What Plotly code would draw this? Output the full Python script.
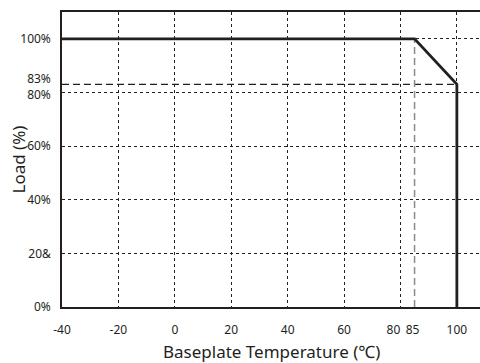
import plotly.graph_objects as go

# Derating curve: load vs baseplate temperature
temp_c = [-40, 85, 100, 100]
load_pct = [100, 100, 83, 0]

# Reference markers
knee_temp = 85
knee_load = 100
limit_temp = 100
limit_load = 83

x_tick_vals = [-40, -20, 0, 20, 40, 60, 100]
x_tick_text = ["-40", "-20", "0", "20", "40", "60", "100"]
x_left_pair_val = [80]
x_left_pair_text = ["80"]
x_right_pair_val = [85]
x_right_pair_text = ["85"]
y_tick_vals = [0, 20, 40, 60, 100]
y_tick_text = ["0%", "20&", "40%", "60%", "100%"]
y_lower_pair_val = [80]
y_lower_pair_text = ["80%"]
y_upper_pair_val = [83]
y_upper_pair_text = ["83%"]
x_grid_vals = [-20, 0, 20, 40, 60, 80, 100]
y_grid_vals = [20, 40, 60, 80, 100]

ink = "#231f20"
font_family = "Noto Sans, Open Sans, sans-serif"

fig = go.Figure()

# 83% horizontal dashed guide
fig.add_trace(go.Scatter(
    x=[-40, limit_temp], y=[limit_load, limit_load], mode="lines",
    line=dict(color=ink, width=1.2, dash="7px,4px"), hoverinfo="skip", showlegend=False))
# 85 °C vertical dashed guide
fig.add_trace(go.Scatter(
    x=[knee_temp, knee_temp], y=[0, knee_load], mode="lines",
    line=dict(color="#8a8a8a", width=1.5, dash="7px,4px"), hoverinfo="skip", showlegend=False))
# Derating curve
fig.add_trace(go.Scatter(
    x=temp_c, y=load_pct, mode="lines",
    line=dict(color=ink, width=2.8), hoverinfo="skip", showlegend=False))

# Invisible traces anchoring the overlay axes
for xa, ya in [("x2", "y2"), ("x", "y3"), ("x", "y4"), ("x3", "y"), ("x4", "y")]:
    fig.add_trace(go.Scatter(
        x=[-40], y=[0], xaxis=xa, yaxis=ya, mode="markers",
        marker=dict(opacity=0), hoverinfo="skip", showlegend=False))

x_range = [-40, 108.2]
y_range = [0, 110]
tick_font = dict(size=12, color=ink)
axis_line = dict(showline=True, linecolor=ink, linewidth=1.5)

x_label_axis = dict(
    range=x_range, overlaying="x", side="bottom", tickmode="array",
    showgrid=False, zeroline=False, ticks="", ticklabelstandoff=11,
    tickangle=0, tickfont=tick_font, **axis_line,
)
y_label_axis = dict(
    range=y_range, overlaying="y", side="left", tickmode="array",
    showgrid=False, zeroline=False, ticks="", ticklabelstandoff=7,
    tickfont=tick_font, **axis_line,
)

fig.update_layout(
    width=480, height=363,
    margin=dict(l=62, r=0, t=12, b=56),
    paper_bgcolor="white", plot_bgcolor="white",
    font=dict(family=font_family, color=ink, size=12),
    xaxis=dict(
        range=x_range, tickmode="array", tickvals=x_tick_vals, ticktext=x_tick_text,
        showgrid=False, zeroline=False, mirror=True, ticks="", ticklabelstandoff=11,
        tickangle=0, tickfont=tick_font, **axis_line,
    ),
    xaxis3=dict(x_label_axis, tickvals=x_left_pair_val, ticktext=x_left_pair_text,
                ticklabelshift=-7),
    xaxis4=dict(x_label_axis, tickvals=x_right_pair_val, ticktext=x_right_pair_text,
                ticklabelshift=-2),
    yaxis=dict(
        range=y_range, tickmode="array", tickvals=y_tick_vals, ticktext=y_tick_text,
        showgrid=False, zeroline=False, ticks="", ticklabelstandoff=7,
        tickfont=tick_font, **axis_line,
    ),
    yaxis3=dict(y_label_axis, tickvals=y_upper_pair_val, ticktext=y_upper_pair_text,
                ticklabelshift=-6),
    yaxis4=dict(y_label_axis, tickvals=y_lower_pair_val, ticktext=y_lower_pair_text,
                ticklabelshift=2),
    xaxis2=dict(
        range=x_range, overlaying="x", tickmode="array", tickvals=x_grid_vals,
        showticklabels=False, showgrid=True, gridcolor=ink, gridwidth=1, griddash="dot",
        zeroline=False, showline=False, ticks="", layer="below traces",
    ),
    yaxis2=dict(
        range=y_range, overlaying="y", tickmode="array", tickvals=y_grid_vals,
        showticklabels=False, showgrid=True, gridcolor=ink, gridwidth=1, griddash="dot",
        zeroline=False, showline=False, ticks="", layer="below traces",
    ),
    annotations=[
        dict(
            text="Load (%)", textangle=-90, showarrow=False,
            xref="paper", yref="paper", x=0, y=0.5, xanchor="center", yanchor="middle",
            xshift=-44, font=dict(size=17, color=ink),
        ),
        dict(
            text="Baseplate Temperature (℃)", showarrow=False,
            xref="paper", yref="paper", x=0.5, y=0, xanchor="center", yanchor="middle",
            yshift=-44, font=dict(size=17, color=ink),
        ),
    ],
)

fig.write_html("out.html")
